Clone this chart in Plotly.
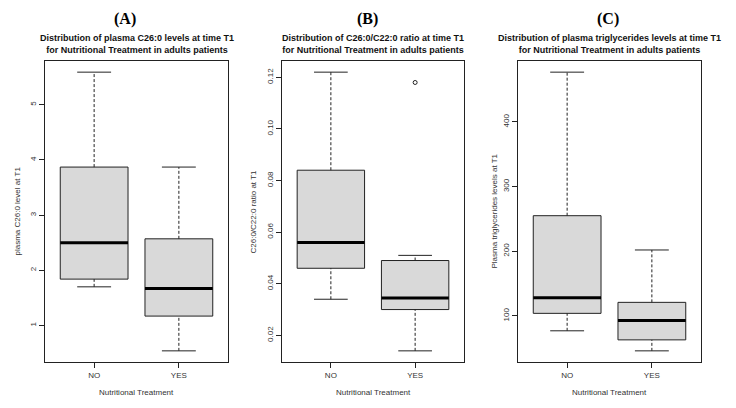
import plotly.graph_objects as go

# five-number summaries (NO, YES)
groups = ["NO", "YES"]
positions = [1, 2]

c26_low = [1.70, 0.54]
c26_q1 = [1.84, 1.17]
c26_med = [2.50, 1.67]
c26_q3 = [3.87, 2.57]
c26_high = [5.59, 3.87]
c26_out = [[], []]
c26_ticks = [1, 2, 3, 4, 5]

ratio_low = [0.034, 0.014]
ratio_q1 = [0.046, 0.030]
ratio_med = [0.056, 0.0345]
ratio_q3 = [0.084, 0.049]
ratio_high = [0.122, 0.051]
ratio_out = [[], [0.118]]
ratio_ticks = [0.02, 0.04, 0.06, 0.08, 0.10, 0.12]

tg_low = [77, 46]
tg_q1 = [104, 63]
tg_med = [128, 93]
tg_q3 = [255, 121]
tg_high = [477, 202]
tg_out = [[], []]
tg_ticks = [100, 200, 300, 400]

panels = [
    dict(label="(A)", title="Distribution of plasma C26:0 levels at time T1<br>for Nutritional Treatment in adults patients",
         ytitle="plasma C26:0 level at T1", stats=(c26_low, c26_q1, c26_med, c26_q3, c26_high), out=c26_out,
         ticks=c26_ticks, fmt="", dom=(45, 228), lab_x=125, ytitle_x=17),
    dict(label="(B)", title="Distribution of C26:0/C22:0 ratio at time T1<br>for Nutritional Treatment in adults patients",
         ytitle="C26:0/C22:0 ratio at T1", stats=(ratio_low, ratio_q1, ratio_med, ratio_q3, ratio_high), out=ratio_out,
         ticks=ratio_ticks, fmt=".2f", dom=(282, 464), lab_x=367, ytitle_x=253),
    dict(label="(C)", title="Distribution of plasma triglycerides levels at time T1<br>for Nutritional Treatment in adults patients",
         ytitle="Plasma triglycerides levels at T1", stats=(tg_low, tg_q1, tg_med, tg_q3, tg_high), out=tg_out,
         ticks=tg_ticks, fmt="", dom=(518, 701), lab_x=608, ytitle_x=494),
]

# page body has an 8px margin, so the figure is sized to the window minus that
OFF = 8
W, H = 736 - 2 * OFF, 408 - 2 * OFF
FRAME_TOP, FRAME_BOT = 61, 362
LINE = "#222222"
FILL = "#d9d9d9"
FONT = "Liberation Sans"


def px(x):
    return (x - OFF) / W


def py(y):
    return 1 - (y - OFF) / H


fig = go.Figure()
annotations = []
layout = {}

for i, p in enumerate(panels):
    n = "" if i == 0 else str(i + 1)
    xa, ya = "x" + n, "y" + n
    low, q1, med, q3, high = p["stats"]
    half, cap = 0.4, 0.2
    for k, pos in enumerate(positions):
        # box body
        fig.add_trace(go.Scatter(
            x=[pos - half, pos + half, pos + half, pos - half, pos - half],
            y=[q1[k], q1[k], q3[k], q3[k], q1[k]],
            mode="lines", fill="toself", fillcolor=FILL,
            line=dict(color=LINE, width=1), xaxis=xa, yaxis=ya,
            showlegend=False, hoverinfo="skip"))
        # dashed whiskers
        for a, b in [(q3[k], high[k]), (low[k], q1[k])]:
            fig.add_trace(go.Scatter(
                x=[pos, pos], y=[a, b], mode="lines",
                line=dict(color=LINE, width=1, dash="3px,2px"), xaxis=xa, yaxis=ya,
                showlegend=False, hoverinfo="skip"))
        # staples
        for v in [low[k], high[k]]:
            fig.add_trace(go.Scatter(
                x=[pos - cap, pos + cap], y=[v, v], mode="lines",
                line=dict(color=LINE, width=1), xaxis=xa, yaxis=ya,
                showlegend=False, hoverinfo="skip"))
        # median
        fig.add_trace(go.Scatter(
            x=[pos - half, pos + half], y=[med[k], med[k]], mode="lines",
            line=dict(color="black", width=3), xaxis=xa, yaxis=ya,
            showlegend=False, hoverinfo="skip"))
        if p["out"][k]:
            fig.add_trace(go.Scatter(
                x=[pos] * len(p["out"][k]), y=p["out"][k], mode="markers",
                marker=dict(symbol="circle-open", size=4, color=LINE, line=dict(width=1)),
                xaxis=xa, yaxis=ya, showlegend=False, hoverinfo="skip"))

    allv = low + high + [v for o in p["out"] for v in o]
    lo, hi = min(allv), max(allv)
    pad = (hi - lo) * 0.04
    x0, x1 = p["dom"]
    layout["xaxis" + n] = dict(
        domain=[px(x0), px(x1)], anchor=ya, range=[0.42, 2.58],
        tickvals=positions, ticktext=groups, ticks="outside", ticklen=5,
        tickcolor=LINE, showgrid=False, zeroline=False, showline=True,
        linecolor=LINE, linewidth=1, mirror=True,
        tickfont=dict(family=FONT, size=8, color="#333333"))
    layout["yaxis" + n] = dict(
        domain=[py(FRAME_BOT), py(FRAME_TOP)], anchor=xa,
        range=[lo - pad, hi + pad], tickvals=p["ticks"], tickformat=p["fmt"],
        tickangle=-90, ticks="outside", ticklen=5, tickcolor=LINE,
        showgrid=False, zeroline=False, showline=True, linecolor=LINE,
        linewidth=1, mirror=True,
        tickfont=dict(family=FONT, size=8, color="#333333"))

    cx = px((x0 + x1) / 2)
    common = dict(xref="paper", yref="paper", showarrow=False, xanchor="center", yanchor="middle")
    annotations += [
        dict(text="<b>" + p["label"] + "</b>", x=px(p["lab_x"]), y=py(8.5),
             xref="paper", yref="paper", showarrow=False, xanchor="center", yanchor="top",
             borderpad=0, font=dict(family="Liberation Serif", size=16, color="black")),
        dict(text="<b>" + p["title"] + "</b>", x=cx, y=py(44),
             font=dict(family=FONT, size=9, color="#111111"), **common),
        dict(text="Nutritional Treatment", x=cx, y=py(392),
             font=dict(family=FONT, size=8, color="#333333"), **common),
        dict(text=p["ytitle"], x=px(p["ytitle_x"]), y=py((FRAME_TOP + FRAME_BOT) / 2),
             textangle=-90, font=dict(family=FONT, size=8, color="#333333"), **common),
    ]

fig.update_layout(
    width=W, height=H, margin=dict(l=0, r=0, t=0, b=0),
    paper_bgcolor="white", plot_bgcolor="white",
    annotations=annotations, **layout)

fig.write_html("out.html")
